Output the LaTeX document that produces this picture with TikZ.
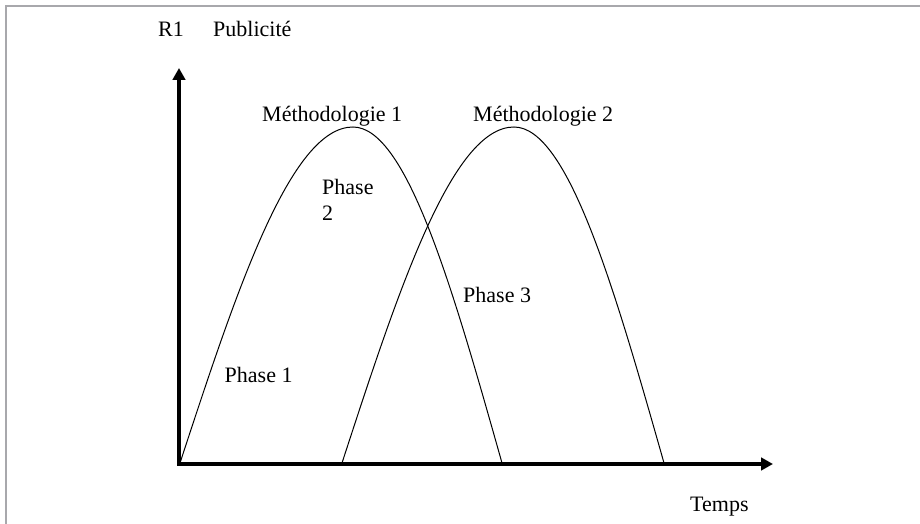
\documentclass[tikz,border=0pt]{standalone}
\usepackage{fontspec}
\setmainfont{Liberation Serif}
\usetikzlibrary{arrows.meta}
\definecolor{framegray}{RGB}{168,168,172}
\begin{document}
\begin{tikzpicture}[x=1pt,y=-1pt,
  label/.style={anchor=base west,inner sep=0pt,font=\fontsize{22}{26}\selectfont},
  axis/.style={line width=3.5pt,line join=miter,{Triangle[length=12pt,width=12.5pt]}-{Triangle[length=12pt,width=12.5pt]}},
  curve/.style={line width=1pt},
  frameline/.style={draw=framegray,line width=2pt}]
\useasboundingbox (0,0) rectangle (920,524);
% outer frame (top and left edges)
\draw[frameline] (6,524) -- (6,6) -- (920,6);

% axes
\coordinate (ytip) at (179,68);
\coordinate (O) at (179,464);
\coordinate (xtip) at (773,464);
\draw[axis] (ytip) -- (O) -- (xtip);

% the two methodology curves
\coordinate (a1) at (180,463);
\coordinate (m1) at (353,127);
\coordinate (b1) at (502,463);
\coordinate (a2) at (342,463);
\coordinate (m2) at (514,127);
\coordinate (b2) at (664,463);
\draw[curve] (a1) sin (m1) cos (b1);
\draw[curve] (a2) sin (m2) cos (b2);

% labels (a two-line node sits on the baseline of its last line)
\node[label] (r1) at (158,36.7) {R1};
\node[label] (pub) at (213,36.7) {Publicité};
\node[label] (meth1) at (262,121.7) {Méthodologie 1};
\node[label] (meth2) at (473,121.7) {Méthodologie 2};
\node[label,align=left] (ph2) at (322,220) {Phase\\2};
\node[label] (ph3) at (463,302.7) {Phase 3};
\node[label] (ph1) at (224.5,382.7) {Phase 1};
\node[label] (temps) at (690,511.7) {Temps};
\end{tikzpicture}
\end{document}
